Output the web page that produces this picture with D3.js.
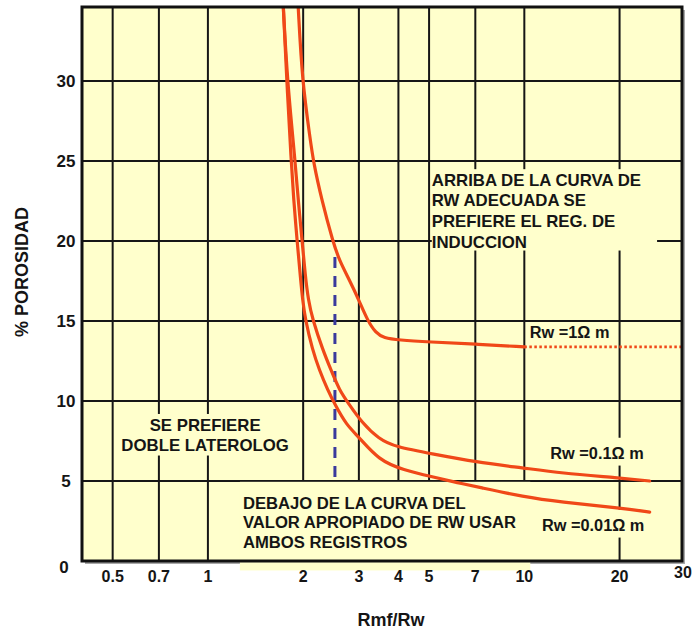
<!DOCTYPE html>
<html><head><meta charset="utf-8">
<script src="https://cdn.jsdelivr.net/npm/d3@7"></script>
<style>
body{margin:0;background:#fff}
svg{display:block}
text{font-family:"Liberation Sans",Arial,sans-serif;font-weight:bold;fill:#151515}
</style>
</head><body><svg id="c" width="693" height="629"></svg>
<script>
// ---------- data ----------
const xTicks = [0.5, 0.7, 1, 2, 3, 4, 5, 7, 10, 20, 30];
const xTickLabels = ["0.5", "0.7", "1", "2", "3", "4", "5", "7", "10", "20", "30"];
const yTicks = [0, 5, 10, 15, 20, 25, 30];
const yTickLabels = ["0", "5", "10", "15", "20", "25", "30"];

// Rw = 1 ohm m (solid part)
const rw1X = [1.929, 1.986, 2.107, 2.155, 2.289, 2.485, 2.60, 2.80, 3.00, 3.19, 3.39, 3.60, 4.0, 5.0, 7.0, 10.0];
const rw1Y = [34.63, 30, 26.31, 24.94, 22.56, 19.94, 18.81, 17.56, 16.31, 15.06, 14.25, 13.94, 13.81, 13.69, 13.56, 13.38];
// Rw = 1 ohm m (dotted extension)
const rw1DotX = [10, 31.5];
const rw1DotY = [13.38, 13.38];
// Rw = 0.1 ohm m
const rw01X = [1.731, 1.782, 1.888, 1.929, 1.986, 2.03, 2.076, 2.14, 2.307, 2.449, 2.60, 2.804, 3.057, 3.464, 3.92, 5.14, 7.0, 10.0, 12.96, 20.0, 24.9];
const rw01Y = [34.63, 30, 24.94, 22.56, 19.94, 17.88, 16.31, 15.13, 13.19, 11.94, 10.69, 9.75, 8.69, 7.63, 7.13, 6.69, 6.19, 5.81, 5.50, 5.19, 5.0];
// Rw = 0.01 ohm m
const rw001X = [1.731, 1.775, 1.834, 1.867, 1.915, 1.964, 1.993, 2.03, 2.14, 2.25, 2.39, 2.525, 2.74, 3.0, 3.464, 4.14, 5.14, 6.19, 7.11, 10.0, 12.96, 20.0, 24.9];
const rw001Y = [34.63, 30, 24.94, 22.56, 19.94, 17.56, 16.31, 15.13, 13.19, 11.94, 10.69, 9.75, 8.5, 7.75, 6.31, 5.69, 5.25, 4.88, 4.63, 4.0, 3.69, 3.31, 3.06];
// dashed reference line (Rmf/Rw ~ 2.5)
const dashX = [2.52, 2.52];
const dashY = [19.0, 4.9];

const curveLabels = ["Rw =1\u03A9 m", "Rw =0.1\u03A9 m", "Rw =0.01\u03A9 m"];
const curveLabelX = [13.9, 16.97, 16.5];
const curveLabelY = [14.31, 6.75, 2.25];

const noteInduccion = ["ARRIBA DE LA CURVA DE", "RW ADECUADA SE", "PREFIERE EL REG. DE", "INDUCCION"];
const noteLaterolog = ["SE PREFIERE", "DOBLE LATEROLOG"];
const noteAmbos = ["DEBAJO DE LA CURVA DEL", "VALOR APROPIADO DE RW USAR", "AMBOS REGISTROS"];

const xTitle = "Rmf/Rw";
const yTitle = "% POROSIDAD";

// ---------- layout ----------
const L = 82, R = 682, T = 7, B = 561;
const x = d3.scaleLog().domain([0.4, 31.5]).range([L, R]);
const y = d3.scaleLinear().domain([0, 34.625]).range([B, T]);

const PLOT = "#ffffcc";
const RED = "#f04818";
const svg = d3.select("#c");

// shadow + plot background
svg.append("rect").attr("x", L + 3).attr("y", T + 3).attr("width", R - L).attr("height", B - T).attr("fill", "#a8a8a8");
svg.append("rect").attr("x", L).attr("y", T).attr("width", R - L).attr("height", B - T).attr("fill", PLOT);

svg.append("clipPath").attr("id", "clip").append("rect")
  .attr("x", L).attr("y", T).attr("width", R - L).attr("height", B - T);

// grid
const grid = svg.append("g").attr("stroke", "#161616").attr("stroke-width", 2);
grid.selectAll(".vx").data(xTicks.filter(d => d < 30)).join("line")
  .attr("x1", d => x(d)).attr("x2", d => x(d)).attr("y1", T).attr("y2", B);
grid.selectAll(".hy").data(yTicks.filter(d => d > 0)).join("line")
  .attr("x1", L).attr("x2", R).attr("y1", d => y(d)).attr("y2", d => y(d));

// dashed blue line
svg.append("line")
  .attr("x1", x(dashX[0])).attr("x2", x(dashX[1]))
  .attr("y1", y(dashY[0])).attr("y2", y(dashY[1]))
  .attr("stroke", "#3a3a9c").attr("stroke-width", 3).attr("stroke-dasharray", "11,8");

// annotation layer (text with plot-coloured boxes that interrupt the grid)
const ann = svg.append("g");
function note(lines, ax, ay, anchor, lh, pad, sx) {
  const px = x(ax), py = y(ay);
  const g = ann.append("g")
    .attr("transform", `translate(${px},${py}) scale(${sx},1) translate(${-px},${-py})`);
  const box = g.append("rect").attr("fill", PLOT);
  const t = g.append("text").attr("font-size", 16).attr("text-anchor", anchor);
  lines.forEach((s, i) => {
    t.append("tspan").attr("x", px).attr("y", py + i * lh).attr("dy", "0.35em").text(s);
  });
  const bb = t.node().getBBox();
  box.attr("x", bb.x - pad[3] / sx).attr("y", bb.y - pad[0])
    .attr("width", bb.width + (pad[1] + pad[3]) / sx).attr("height", bb.height + pad[0] + pad[2]);
}
note(noteInduccion, 5.1, 23.8, "start", 20.6, [2, 16, 0, 0], 1.05);
note(noteLaterolog, 0.98, 8.5, "middle", 20, [2, 3, 2, 3], 1.05);
note(noteAmbos, 1.29, 3.63, "start", 19.5, [12, 14, 20, 3], 1.04);
curveLabels.forEach((s, i) => {
  note([s], curveLabelX[i], curveLabelY[i], "middle", 0, i === 0 ? [0, 0, 0, 0] : [6, 2, 4, 2], 1.02);
});

// curves
const line = d3.line().x(d => x(d[0])).y(d => y(d[1])).curve(d3.curveBasis);
const curves = svg.append("g").attr("clip-path", "url(#clip)").attr("fill", "none")
  .attr("stroke", RED).attr("stroke-width", 3.2).attr("stroke-linecap", "round");
[[rw1X, rw1Y], [rw01X, rw01Y], [rw001X, rw001Y]].forEach(([xs, ys]) => {
  curves.append("path").attr("d", line(xs.map((v, i) => [v, ys[i]])));
});
curves.append("path").attr("d", d3.line().x(d => x(d[0])).y(d => y(d[1]))(rw1DotX.map((v, i) => [v, rw1DotY[i]])))
  .attr("stroke-width", 2.8).attr("stroke-dasharray", "2.5,2.5").attr("stroke-linecap", "butt");

// frame
svg.append("rect").attr("x", L).attr("y", T).attr("width", R - L).attr("height", B - T)
  .attr("fill", "none").attr("stroke", "#111").attr("stroke-width", 3);

// tick labels
svg.append("g").selectAll("text").data(xTicks).join("text")
  .attr("font-size", 16).attr("text-anchor", "middle")
  .attr("x", (d, i) => d === 30 ? R + 1 : x(d))
  .attr("y", d => d === 30 ? B + 17 : B + 21)
  .text((d, i) => xTickLabels[i]);
svg.append("g").selectAll("text").data(yTicks).join("text")
  .attr("font-size", 17).attr("text-anchor", "middle")
  .attr("x", d => d === 0 ? 64 : 66)
  .attr("y", d => y(d) + (d === 0 ? 6 : 0)).attr("dy", "0.35em")
  .text((d, i) => yTickLabels[i]);

// axis titles
svg.append("text").attr("font-size", 18).attr("text-anchor", "middle")
  .attr("x", (L + R) / 2 + 9).attr("y", 620).attr("dy", "0.35em").text(xTitle);
svg.append("text").attr("font-size", 18).attr("text-anchor", "middle")
  .attr("transform", "translate(22," + ((T + B) / 2 - 12) + ") rotate(-90)")
  .attr("dy", "0.35em").text(yTitle);
</script>
</body></html>
